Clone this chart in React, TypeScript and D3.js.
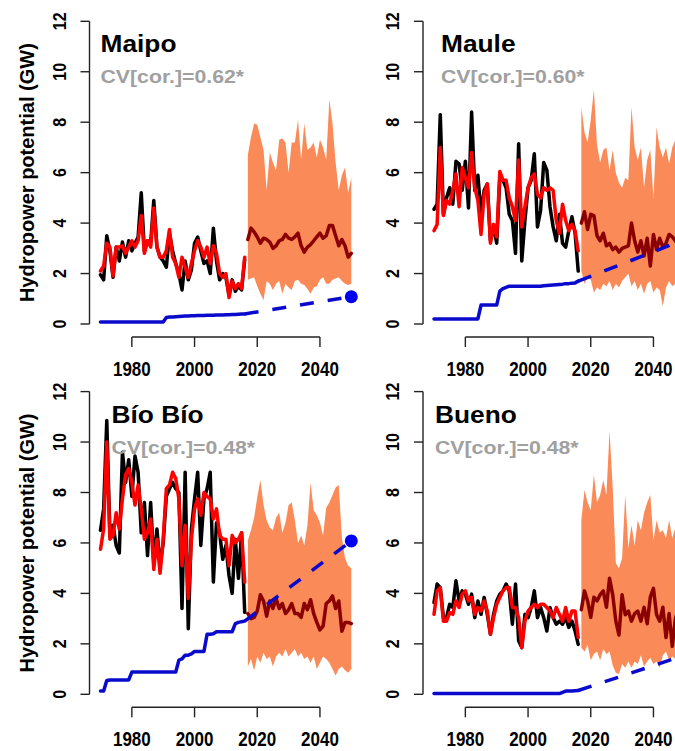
// @ts-nocheck
import React from 'react'
import * as d3 from 'd3'

const histYears = d3.range(1970, 2017)
const futYears = d3.range(2017, 2051)
const yTicks = [0, 2, 4, 6, 8, 10, 12]
const xTicks = [1980, 2000, 2020, 2040]

// Maipo
const maipoObs = [1.95, 1.75, 3.5, 2.9, 1.85, 3.05, 2.5, 3.25, 2.65, 3.3, 2.9, 3.2, 3.45, 5.2, 2.9, 3.3, 3.2, 4.9, 3.05, 2.65, 2.5, 2.25, 3.6, 2.9, 2.4, 2.0, 1.35, 2.5, 1.75, 2.15, 3.2, 3.45, 2.9, 2.4, 2.5, 2.0, 3.8, 2.5, 1.75, 2.0, 1.85, 1.15, 1.75, 1.3, 1.5, 1.35, 2.55]
const maipoSim = [2.1, 2.3, 3.2, 3.05, 1.9, 3.05, 3.05, 3.1, 2.8, 3.05, 3.3, 3.05, 3.3, 4.3, 2.8, 3.3, 3.05, 4.6, 3.05, 2.65, 2.65, 2.9, 3.75, 2.65, 2.4, 1.85, 2.65, 2.25, 1.85, 2.4, 2.9, 3.3, 3.05, 2.65, 3.05, 2.4, 3.1, 2.8, 2.0, 1.85, 2.0, 1.05, 1.7, 1.4, 1.6, 1.4, 2.65]
const maipoMed = [3.35, 3.8, 3.65, 3.45, 3.2, 3.4, 3.35, 3.25, 3.0, 3.1, 3.3, 3.35, 3.55, 3.4, 3.35, 3.45, 3.6, 3.1, 2.85, 3.05, 3.15, 3.3, 3.45, 3.6, 3.4, 3.5, 3.9, 3.9, 3.5, 3.1, 3.35, 3.1, 2.65, 2.8]
const maipoLo = [1.75, 1.8, 1.85, 1.5, 1.2, 0.95, 1.7, 1.6, 1.35, 1.6, 1.7, 1.2, 1.6, 1.45, 1.35, 1.7, 1.75, 1.6, 1.55, 1.4, 1.2, 1.45, 1.5, 1.75, 1.85, 1.6, 1.6, 1.75, 1.8, 1.85, 1.7, 1.6, 1.55, 1.6]
const maipoHi = [6.7, 7.4, 7.95, 7.9, 7.4, 6.9, 5.3, 6.8, 6.4, 6.1, 7.3, 7.35, 7.2, 6.0, 7.2, 7.2, 8.1, 6.5, 7.95, 6.9, 7.0, 7.2, 6.6, 7.3, 7.0, 6.5, 8.9, 7.95, 6.4, 5.3, 5.9, 6.2, 5.2, 5.8]
const maipoCap = [0.08, 0.08, 0.08, 0.08, 0.08, 0.08, 0.08, 0.08, 0.08, 0.08, 0.08, 0.08, 0.08, 0.08, 0.08, 0.08, 0.08, 0.08, 0.08, 0.08, 0.08, 0.26, 0.28, 0.28, 0.29, 0.3, 0.31, 0.32, 0.32, 0.33, 0.33, 0.34, 0.34, 0.34, 0.35, 0.35, 0.35, 0.36, 0.36, 0.36, 0.37, 0.37, 0.38, 0.38, 0.39, 0.4, 0.4]
const maipoCap2050 = 1.08

// Maule
const mauleObs = [4.55, 4.75, 8.3, 4.35, 5.0, 5.4, 4.75, 6.45, 6.35, 5.3, 6.45, 4.6, 8.4, 5.3, 5.9, 4.35, 5.3, 5.55, 3.3, 3.85, 3.2, 5.8, 5.7, 5.4, 4.35, 4.1, 2.8, 7.15, 2.5, 4.1, 5.4, 5.7, 6.75, 3.85, 4.5, 6.4, 6.1, 4.65, 3.85, 3.3, 4.35, 3.2, 3.05, 3.7, 4.25, 3.6, 2.1]
const mauleSim = [3.7, 3.95, 7.0, 4.3, 4.9, 4.75, 5.3, 5.95, 4.65, 6.2, 5.8, 5.4, 6.8, 5.4, 4.9, 3.55, 5.15, 5.55, 3.2, 3.95, 3.45, 6.05, 5.7, 5.7, 5.0, 4.65, 4.1, 6.5, 3.85, 4.65, 5.4, 5.8, 5.95, 5.15, 5.0, 5.4, 5.3, 5.4, 5.3, 4.1, 3.6, 4.75, 4.1, 3.7, 3.95, 3.7, 2.9]
const mauleMed = [4.0, 4.45, 3.75, 4.35, 4.3, 3.5, 3.3, 3.6, 3.1, 3.2, 2.95, 3.05, 2.85, 3.0, 3.05, 3.1, 4.0, 3.3, 2.85, 3.3, 2.7, 3.4, 2.3, 3.55, 2.95, 3.4, 3.05, 3.2, 3.55, 3.45, 3.3, 3.1, 3.2, 3.3]
const mauleLo = [2.1, 1.6, 1.85, 1.75, 1.25, 1.45, 1.35, 1.6, 1.5, 1.7, 1.35, 1.6, 1.45, 1.7, 1.85, 2.0, 1.5, 1.7, 1.35, 1.6, 1.2, 1.6, 1.7, 1.25, 1.45, 1.35, 0.7, 1.45, 1.7, 1.5, 1.6, 1.4, 1.5, 1.6]
const mauleHi = [8.6, 7.6, 7.2, 8.1, 9.3, 7.1, 6.4, 6.9, 7.0, 6.1, 6.9, 6.0, 5.6, 5.4, 5.8, 5.7, 8.6, 7.0, 6.5, 7.0, 5.4, 6.5, 6.9, 5.0, 7.8, 7.0, 6.6, 7.0, 6.35, 7.0, 7.3, 7.0, 6.8, 7.2]
const mauleCap = [0.2, 0.2, 0.2, 0.2, 0.2, 0.2, 0.2, 0.2, 0.2, 0.2, 0.2, 0.2, 0.2, 0.2, 0.2, 0.75, 0.75, 0.75, 0.75, 0.75, 0.75, 1.3, 1.4, 1.45, 1.5, 1.5, 1.5, 1.5, 1.5, 1.5, 1.5, 1.5, 1.5, 1.5, 1.5, 1.52, 1.53, 1.54, 1.55, 1.56, 1.57, 1.58, 1.6, 1.6, 1.62, 1.63, 1.7]
const mauleCap2050 = 3.35

// Bío Bío
const bioObs = [6.5, 7.35, 10.85, 6.3, 6.7, 5.9, 5.6, 9.6, 8.4, 9.3, 7.85, 9.45, 8.8, 6.4, 7.6, 5.5, 7.6, 5.2, 6.55, 5.1, 6.0, 7.85, 8.15, 8.4, 8.15, 8.0, 3.4, 8.8, 2.6, 6.55, 7.75, 8.8, 5.9, 7.75, 8.15, 8.8, 4.45, 6.8, 6.4, 5.35, 5.9, 4.7, 4.0, 6.15, 4.6, 6.4, 3.25]
const bioSim = [5.75, 6.55, 10.0, 6.15, 6.3, 7.2, 6.55, 7.75, 8.7, 8.95, 8.4, 7.5, 8.3, 7.35, 6.15, 6.4, 6.95, 4.95, 6.15, 4.8, 6.15, 8.15, 8.3, 8.8, 8.55, 7.75, 5.1, 6.7, 3.8, 6.15, 7.35, 7.75, 7.1, 8.0, 7.85, 7.75, 6.95, 7.35, 6.3, 6.15, 6.15, 5.1, 6.3, 6.0, 6.15, 6.4, 4.45]
const bioMed = [3.2, 3.0, 3.05, 3.3, 3.95, 3.7, 3.1, 3.7, 3.4, 3.8, 3.4, 3.6, 3.2, 3.35, 3.6, 3.2, 3.2, 3.05, 3.6, 3.35, 3.75, 3.2, 2.85, 2.55, 2.7, 3.6, 3.7, 3.9, 3.4, 3.7, 2.5, 2.85, 2.85, 2.8]
const bioLo = [1.1, 1.4, 0.95, 1.5, 1.25, 1.65, 1.4, 1.5, 1.1, 1.5, 1.65, 1.5, 1.8, 1.5, 1.65, 1.8, 1.5, 1.65, 1.4, 1.5, 1.25, 1.5, 1.0, 1.25, 1.5, 1.4, 1.25, 1.0, 0.75, 1.0, 1.1, 0.95, 0.85, 1.0]
const bioHi = [6.1, 6.5, 7.0, 7.8, 8.5, 7.5, 6.9, 6.6, 6.5, 7.0, 7.2, 6.4, 6.8, 7.5, 7.6, 6.9, 6.0, 6.3, 5.9, 6.7, 8.4, 7.3, 7.1, 6.8, 6.3, 7.4, 7.6, 7.9, 8.2, 8.3, 6.2, 5.4, 5.1, 5.0]
const bioCap = [0.13, 0.13, 0.55, 0.57, 0.57, 0.57, 0.57, 0.57, 0.57, 0.57, 0.88, 0.88, 0.88, 0.88, 0.88, 0.88, 0.88, 0.88, 0.88, 0.88, 0.88, 0.88, 0.88, 0.88, 0.88, 1.35, 1.4, 1.55, 1.55, 1.6, 1.7, 1.7, 1.7, 1.7, 2.38, 2.38, 2.4, 2.48, 2.48, 2.48, 2.48, 2.48, 2.48, 2.8, 2.85, 2.88, 2.9]
const bioCap2050 = 6.08

// Bueno
const buenoObs = [3.64, 4.37, 4.23, 3.04, 3.04, 3.57, 3.44, 4.5, 3.7, 4.1, 3.97, 3.57, 3.97, 3.04, 3.7, 3.17, 3.84, 3.17, 2.38, 3.17, 3.7, 3.97, 4.1, 4.37, 4.1, 2.78, 4.37, 2.12, 1.85, 3.17, 3.04, 3.44, 4.1, 3.04, 3.44, 3.04, 2.51, 3.44, 3.04, 2.78, 2.9, 2.78, 3.04, 2.65, 2.9, 2.51, 1.98]
const buenoSim = [3.17, 4.1, 4.23, 2.9, 2.9, 3.24, 3.17, 3.7, 3.44, 3.97, 4.1, 3.7, 3.84, 3.17, 3.44, 3.3, 3.7, 3.3, 2.38, 3.04, 3.57, 3.84, 4.1, 4.23, 4.23, 3.44, 3.44, 3.04, 1.85, 2.9, 3.3, 3.44, 3.57, 3.44, 3.57, 3.57, 3.44, 3.3, 3.04, 3.44, 3.17, 2.9, 3.44, 2.9, 3.3, 3.3, 2.25]
const buenoMed = [3.35, 4.1, 3.7, 3.05, 3.85, 3.7, 3.95, 4.1, 3.45, 4.6, 3.95, 2.9, 2.35, 3.95, 3.15, 3.3, 2.9, 3.2, 3.3, 2.9, 3.45, 2.8, 3.85, 4.2, 3.15, 2.9, 3.45, 2.25, 3.2, 1.9, 3.0, 3.4, 3.0, 3.2]
const buenoLo = [1.85, 1.7, 1.95, 1.35, 1.6, 1.7, 1.35, 1.8, 1.6, 1.7, 1.15, 0.85, 0.8, 1.2, 1.05, 1.3, 1.05, 1.3, 1.2, 1.55, 1.1, 1.3, 1.45, 1.2, 1.3, 1.05, 1.55, 1.7, 1.35, 1.5, 1.4, 1.3, 1.4, 1.5]
const buenoHi = [6.9, 8.1, 7.6, 7.3, 8.7, 7.6, 7.9, 8.5, 7.9, 10.45, 8.2, 5.2, 5.0, 5.4, 7.9, 5.8, 6.7, 5.9, 6.9, 6.5, 7.2, 7.6, 7.9, 6.1, 6.9, 6.4, 6.5, 6.2, 6.9, 6.2, 6.6, 6.0, 6.4, 6.2]
const buenoCap = [0.03, 0.03, 0.03, 0.03, 0.03, 0.03, 0.03, 0.03, 0.03, 0.03, 0.03, 0.03, 0.03, 0.03, 0.03, 0.03, 0.03, 0.03, 0.03, 0.03, 0.03, 0.03, 0.03, 0.03, 0.03, 0.03, 0.03, 0.03, 0.03, 0.03, 0.03, 0.03, 0.03, 0.03, 0.03, 0.03, 0.03, 0.03, 0.03, 0.03, 0.03, 0.08, 0.13, 0.13, 0.13, 0.14, 0.15]
const buenoCap2050 = 1.55

const panels = [
  { name: 'Maipo', cv: 'CV[cor.]=0.62*', obs: maipoObs, sim: maipoSim, med: maipoMed, lo: maipoLo, hi: maipoHi, cap: maipoCap, capEnd: maipoCap2050, col: 0, row: 0, tdx: 11 },
  { name: 'Maule', cv: 'CV[cor.]=0.60*', obs: mauleObs, sim: mauleSim, med: mauleMed, lo: mauleLo, hi: mauleHi, cap: mauleCap, capEnd: mauleCap2050, col: 1, row: 0, tdx: 18 },
  { name: 'Bío Bío', cv: 'CV[cor.]=0.48*', obs: bioObs, sim: bioSim, med: bioMed, lo: bioLo, hi: bioHi, cap: bioCap, capEnd: bioCap2050, col: 0, row: 1, tdx: 22 },
  { name: 'Bueno', cv: 'CV[cor.]=0.48*', obs: buenoObs, sim: buenoSim, med: buenoMed, lo: buenoLo, hi: buenoHi, cap: buenoCap, capEnd: buenoCap2050, col: 1, row: 1, tdx: 12 },
]

const FONT = '"Liberation Sans", Arial, Helvetica, sans-serif'
const BAND = '#FA8A58'
const BLUE = '#0A0ACD'
const LW = 3.5

const Panel = ({ p }) => {
  const ox = p.col * 333.5
  const y0 = p.row === 0 ? 324 : 694.3
  const x = d3.scaleLinear().domain([1970, 2050]).range([100.5 + ox, 351.3 + ox])
  const y = d3.scaleLinear().domain([0, 12]).range([y0, y0 - 302.7])
  const axisX = 89.5 + ox
  const axisY = y0 + 13

  const line = d3
    .line()
    .x((d) => x(d[0]))
    .y((d) => y(d[1]))

  const hist = (vals) => line(histYears.map((yr, i) => [yr, vals[i]]))
  const fut = futYears.map((yr, i) => ({ yr, lo: p.lo[i], hi: p.hi[i], med: p.med[i] }))
  const area = d3
    .area()
    .x((d) => x(d.yr))
    .y0((d) => y(d.lo))
    .y1((d) => y(d.hi))

  const lastYear = histYears[histYears.length - 1]
  const lastCap = p.cap[p.cap.length - 1]

  return (
    <g>
      <path d={area(fut)} fill={BAND} />
      <path d={hist(p.obs)} fill="none" stroke="#000" strokeWidth={LW} strokeLinejoin="round" strokeLinecap="round" />
      <path d={hist(p.sim)} fill="none" stroke="#F00" strokeWidth={LW} strokeLinejoin="round" strokeLinecap="round" />
      <path
        d={line(fut.map((d) => [d.yr, d.med]))}
        fill="none"
        stroke="#8B0000"
        strokeWidth={LW}
        strokeLinejoin="round"
        strokeLinecap="round"
      />
      <path d={hist(p.cap)} fill="none" stroke={BLUE} strokeWidth={LW} strokeLinejoin="round" strokeLinecap="round" />
      <path
        d={line([
          [lastYear, lastCap],
          [2050, p.capEnd],
        ])}
        fill="none"
        stroke={BLUE}
        strokeWidth={LW}
        strokeDasharray="14 14"
      />
      <circle cx={x(2050)} cy={y(p.capEnd)} r={6.5} fill="#0000F0" />

      {/* y axis */}
      <line x1={axisX} x2={axisX} y1={y(0)} y2={y(12)} stroke="#222" strokeWidth={1.4} />
      {yTicks.map((t) => (
        <g key={t}>
          <line x1={axisX - 9} x2={axisX} y1={y(t)} y2={y(t)} stroke="#222" strokeWidth={1.4} />
          <text
            transform={`translate(${axisX - 24},${y(t)}) rotate(-90) scale(1,1.2)`}
            textAnchor="middle"
            fontSize={16}
            fontWeight="bold"
            fontFamily={FONT}
          >
            {t}
          </text>
        </g>
      ))}

      {/* x axis */}
      <line x1={x(xTicks[0])} x2={x(xTicks[xTicks.length - 1])} y1={axisY} y2={axisY} stroke="#222" strokeWidth={1.4} />
      {xTicks.map((t) => (
        <g key={t}>
          <line x1={x(t)} x2={x(t)} y1={axisY} y2={axisY + 10} stroke="#222" strokeWidth={1.4} />
          <text
            transform={`translate(${x(t)},${axisY + 38.5}) scale(1,1.2)`}
            textAnchor="middle"
            fontSize={17}
            fontWeight="bold"
            fontFamily={FONT}
          >
            {t}
          </text>
        </g>
      ))}

      {p.col === 0 && (
        <text
          transform={`translate(33.5,${(y(0) + y(12)) / 2}) rotate(-90)`}
          textAnchor="middle"
          fontSize={20}
          fontWeight="bold"
          fontFamily={FONT}
        >
          Hydropower potential (GW)
        </text>
      )}

      <text transform={`translate(${axisX + p.tdx},${y(12) + 31}) scale(1.12,1)`} fontSize={23.5} fontWeight="bold" fontFamily={FONT}>
        {p.name}
      </text>
      <text
        transform={`translate(${axisX + p.tdx},${y(12) + 62}) scale(1.12,1)`}
        fontSize={19}
        fontWeight="bold"
        fontFamily={FONT}
        fill="#A0A0A0"
      >
        {p.cv}
      </text>
    </g>
  )
}

const App = () => {
  return (
    <svg width={675} height={751} style={{ position: 'absolute', left: 0, top: 0, background: '#fff' }}>
      <rect width={675} height={751} fill="#fff" />
      {panels.map((p) => (
        <Panel key={p.name} p={p} />
      ))}
    </svg>
  )
}

export default App
